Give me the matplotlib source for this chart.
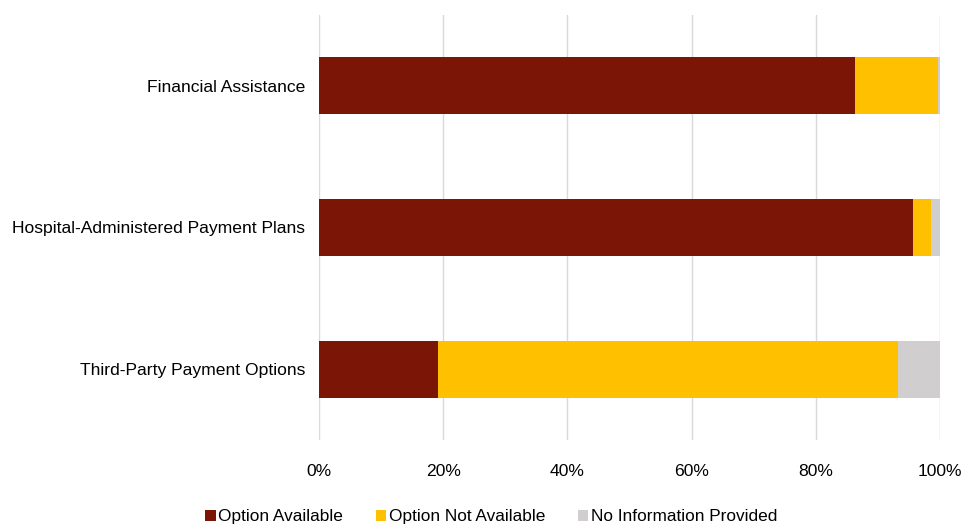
import matplotlib.pyplot as plt
import numpy as np

plt.rcParams['font.family'] = ['Liberation Sans', 'DejaVu Sans']

categories = ["Financial Assistance", "Hospital-Administered Payment Plans",
              "Third-Party Payment Options"]
available = [86.3, 95.7, 19.1]
not_available = [13.3, 2.9, 74.1]
no_info = [0.4, 1.4, 6.8]

series_names = ["Option Available", "Option Not Available", "No Information Provided"]
colors = ["#7B1506", "#FFC000", "#D0CECE"]

fig = plt.figure(figsize=(9.65, 5.24), dpi=100)
ax = fig.add_axes([0.3306, 0.1603, 0.6435, 0.8111])

y = np.arange(len(categories))
left = np.zeros(len(categories))
for vals, name, c in zip([available, not_available, no_info], series_names, colors):
    ax.barh(y, vals, left=left, height=0.4, color=c, label=name, zorder=3)
    left += np.array(vals)

ax.set_xlim(0, 100)
ax.set_ylim(2.5, -0.5)
ax.set_yticks(y)
ax.set_yticklabels(categories, fontsize=12.6)
ax.set_xticks(np.arange(0, 101, 20))
ax.set_xticklabels([f"{v}%" for v in range(0, 101, 20)], fontsize=12.6)
ax.tick_params(length=0)
ax.tick_params(axis='y', pad=10)
ax.tick_params(axis='x', pad=17)
ax.grid(axis='x', color='#D9D9D9', linewidth=1, zorder=0)
for s in ax.spines.values():
    s.set_visible(False)

fig.legend(loc='lower center', bbox_to_anchor=(0.509, -0.03), ncol=3, frameon=False,
           fontsize=12.4, handlelength=0.6, handleheight=0.6, handletextpad=0.15,
           columnspacing=1.9)

fig.savefig("out.png", dpi=100)
